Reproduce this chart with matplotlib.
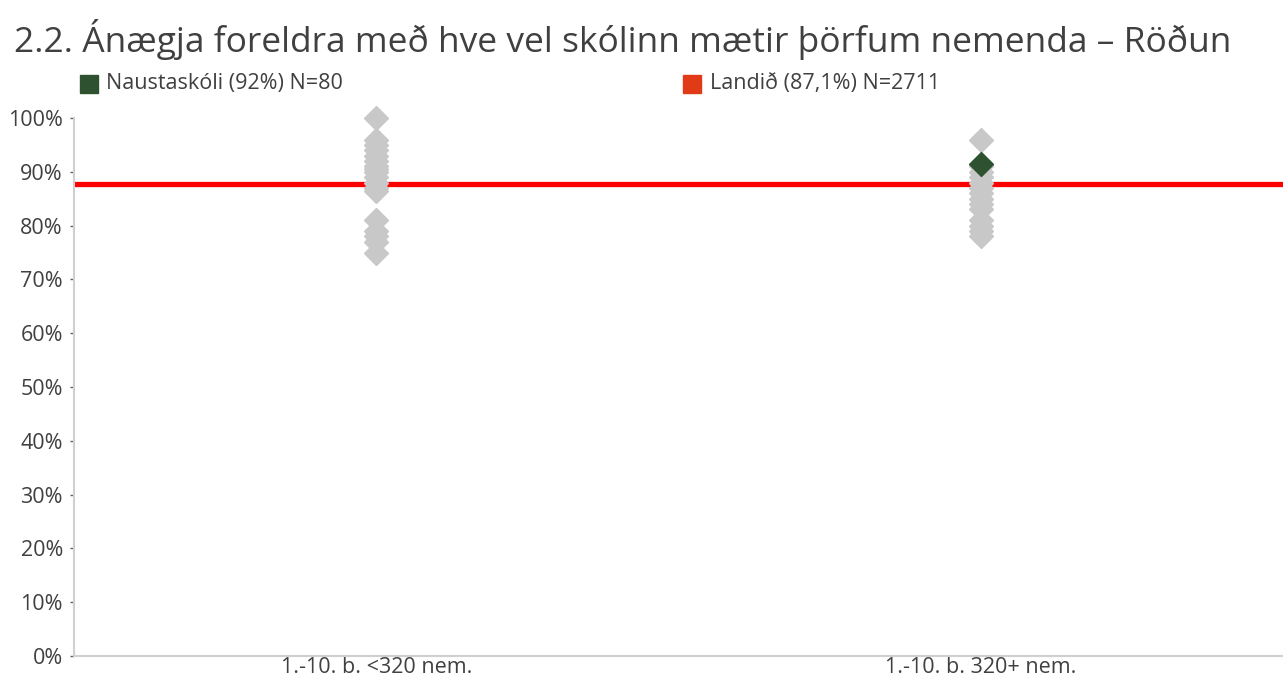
import matplotlib.pyplot as plt
from matplotlib.ticker import PercentFormatter

plt.rcParams['font.family'] = ['Open Sans', 'DejaVu Sans']

categories = ["1.-10. b. <320 nem.", "1.-10. b. 320+ nem."]
# other schools (gray diamonds), per category
others_small = [100, 96, 95, 94, 93, 92, 91, 90.5, 90, 89, 88, 87, 86.5,
                81, 79, 78, 77, 75]
others_large = [96, 91, 90, 89, 88, 87, 86, 85, 84, 83, 81, 80, 79, 78]
school_value = 91.5
school_cat = 1
national_line = 87.8

title = "2.2. Ánægja foreldra með hve vel skólinn mætir þörfum nemenda – Röðun"
school_label = "Naustaskóli (92%) N=80"
national_label = "Landið (87,1%) N=2711"

text_color = '#404040'

fig = plt.figure(figsize=(12.83, 6.79), dpi=100)
ax = fig.add_axes([74 / 1283, 1 - 656 / 679, 1209 / 1283, (656 - 118) / 679])

ax.axhline(national_line, color='#ff0000', linewidth=3.8, zorder=2)

for i, vals in enumerate([others_small, others_large]):
    ax.plot([i] * len(vals), vals, linestyle='none', marker='D',
            markersize=12.5, color='#c8c8c8', clip_on=False, zorder=3)

ax.plot([school_cat], [school_value], linestyle='none', marker='D',
        markersize=12.5, color='#2e5230', clip_on=False, zorder=4)

ax.set_xlim(-0.5, 1.5)
ax.set_ylim(0, 100)
ax.set_yticks(range(0, 101, 10))
ax.yaxis.set_major_formatter(PercentFormatter(decimals=0))
ax.set_xticks([0, 1])
ax.set_xticklabels(categories)
ax.tick_params(axis='y', labelsize=15.5, length=3, width=1, color='#606060',
               pad=5, labelcolor=text_color)
ax.tick_params(axis='x', labelsize=15.5, length=0, pad=1, labelcolor=text_color)
for s in ['top', 'right']:
    ax.spines[s].set_visible(False)
for s in ['left', 'bottom']:
    ax.spines[s].set_color('#d0d0d0')
    ax.spines[s].set_linewidth(1.5)

fig.text(14 / 1283, 1 - 40 / 679, title, fontsize=25.5, va='center', ha='left',
         color=text_color)

# legend entries
fig.patches.append(plt.Rectangle((80 / 1283, 1 - 93 / 679), 18 / 1283, 18 / 679,
                                 transform=fig.transFigure, color='#2e5230'))
fig.text(106 / 1283, 1 - 83 / 679, school_label, fontsize=15.5, va='center',
         color=text_color)
fig.patches.append(plt.Rectangle((683 / 1283, 1 - 93 / 679), 18 / 1283, 18 / 679,
                                 transform=fig.transFigure, color='#e03a16'))
fig.text(710 / 1283, 1 - 83 / 679, national_label, fontsize=15.5, va='center',
         color=text_color)

fig.savefig('out.png', dpi=100)
